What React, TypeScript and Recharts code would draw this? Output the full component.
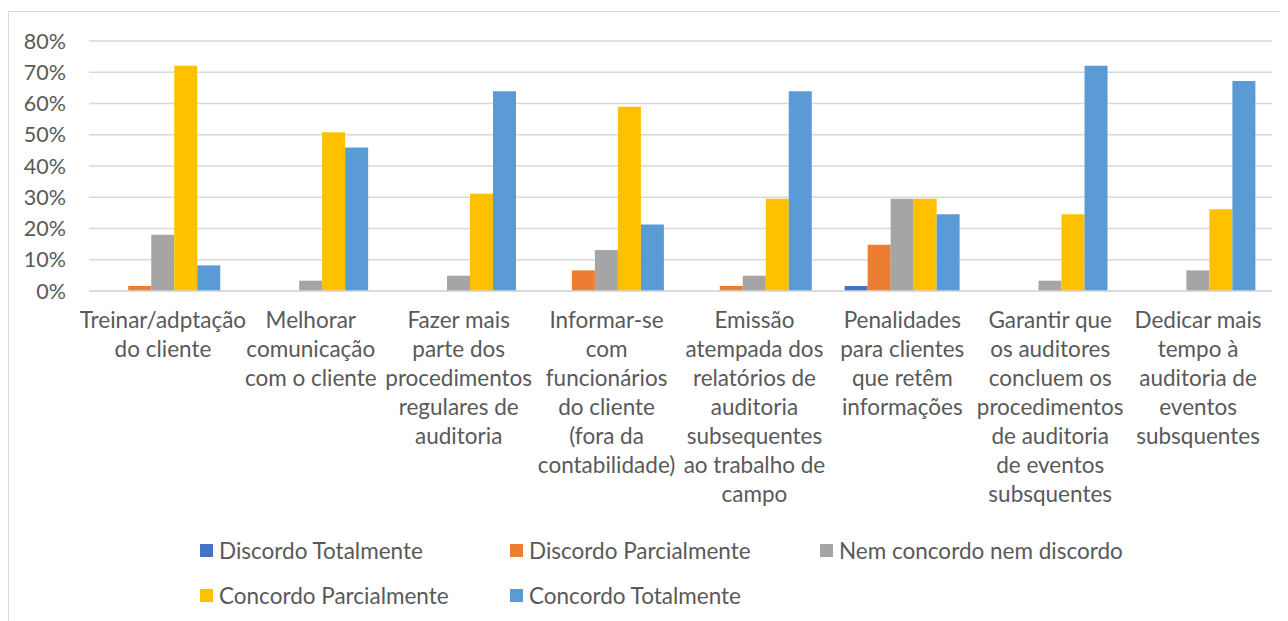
import { BarChart, Bar, XAxis, YAxis, CartesianGrid, Legend } from "recharts"

// respostas em % (n = 61)
const categories = [
  "Treinar/adptação|do cliente",
  "Melhorar|comunicação|com o cliente",
  "Fazer mais|parte dos|procedimentos|regulares de|auditoria",
  "Informar-se|com|funcionários|do cliente|(fora da|contabilidade)",
  "Emissão|atempada dos|relatórios de|auditoria|subsequentes|ao trabalho de|campo",
  "Penalidades|para clientes|que retêm|informações",
  "Garantir que|os auditores|concluem os|procedimentos|de auditoria|de eventos|subsquentes",
  "Dedicar mais|tempo à|auditoria de|eventos|subsquentes",
]

const discordoTotalmente = [0, 0, 0, 0, 0, 1.6, 0, 0]
const discordoParcialmente = [1.6, 0, 0, 6.6, 1.6, 14.8, 0, 0]
const nemNem = [18.0, 3.3, 4.9, 13.1, 4.9, 29.5, 3.3, 6.6]
const concordoParcialmente = [72.1, 50.8, 31.1, 59.0, 29.5, 29.5, 24.6, 26.2]
const concordoTotalmente = [8.2, 45.9, 63.9, 21.3, 63.9, 24.6, 72.1, 67.2]

const yTicks = [0, 10, 20, 30, 40, 50, 60, 70, 80]

const series = [
  { key: "dt", name: "Discordo Totalmente", color: "#4472C4", values: discordoTotalmente },
  { key: "dp", name: "Discordo Parcialmente", color: "#ED7D31", values: discordoParcialmente },
  { key: "nn", name: "Nem concordo nem discordo", color: "#A5A5A5", values: nemNem },
  { key: "cp", name: "Concordo Parcialmente", color: "#FFC000", values: concordoParcialmente },
  { key: "ct", name: "Concordo Totalmente", color: "#5B9BD5", values: concordoTotalmente },
]

const data = categories.map((name, i) => {
  const row: Record<string, string | number> = { name }
  series.forEach((s) => {
    row[s.key] = s.values[i]
  })
  return row
})

const FONT = "Lato, 'Liberation Sans', sans-serif"
const TEXT = "#595959"

function CategoryTick({ x, y, payload }: any) {
  const lines = String(payload.value).split("|")
  return (
    <text x={x} y={y} textAnchor="middle" fill={TEXT} fontSize={22.5} fontFamily={FONT}>
      {lines.map((line, i) => (
        <tspan key={i} x={x} dy={29}>
          {line}
        </tspan>
      ))}
    </text>
  )
}

function LegendBox() {
  return (
    <div style={{ display: "flex", flexWrap: "wrap", width: 940, fontFamily: FONT, fontSize: 22.5, color: TEXT }}>
      {series.map((s) => (
        <div key={s.key} style={{ width: 310, height: 45, display: "flex", alignItems: "center" }}>
          <span style={{ width: 13, height: 13, background: s.color, marginRight: 6, display: "inline-block" }} />
          <span>{s.name}</span>
        </div>
      ))}
    </div>
  )
}

export default function App() {
  return (
    <div style={{ position: "relative", width: 1280, height: 613 }}>
      <div
        style={{
          position: "absolute",
          left: 0,
          top: 3,
          width: 1280,
          height: 610,
          borderTop: "1px solid #d9d9d9",
          borderLeft: "1px solid #d9d9d9",
        }}
      />
      <div style={{ position: "absolute", left: 0, top: 0 }}>
        <BarChart
          width={1280}
          height={613}
          data={data}
          margin={{ top: 33, right: 16, bottom: 0, left: 0 }}
          barCategoryGap="11%"
          barGap={0}
        >
          <CartesianGrid vertical={false} stroke="#d9d9d9" strokeWidth={1.5} />
          <XAxis
            dataKey="name"
            interval={0}
            height={330}
            tickLine={false}
            axisLine={{ stroke: "#d9d9d9", strokeWidth: 1.5 }}
            tick={<CategoryTick />}
          />
          <YAxis
            width={81}
            domain={[0, 80]}
            ticks={yTicks}
            tickFormatter={(v) => `${v}%`}
            axisLine={false}
            tickLine={false}
            tickMargin={17}
            tick={{ fontSize: 21.5, fill: TEXT, fontFamily: FONT }}
          />
          <Legend
            layout="vertical"
            align="center"
            verticalAlign="middle"
            wrapperStyle={{ top: 520, left: 192, width: 940 }}
            content={<LegendBox />}
          />
          {series.map((s) => (
            <Bar key={s.key} dataKey={s.key} name={s.name} fill={s.color} isAnimationActive={false} />
          ))}
        </BarChart>
      </div>
    </div>
  )
}
